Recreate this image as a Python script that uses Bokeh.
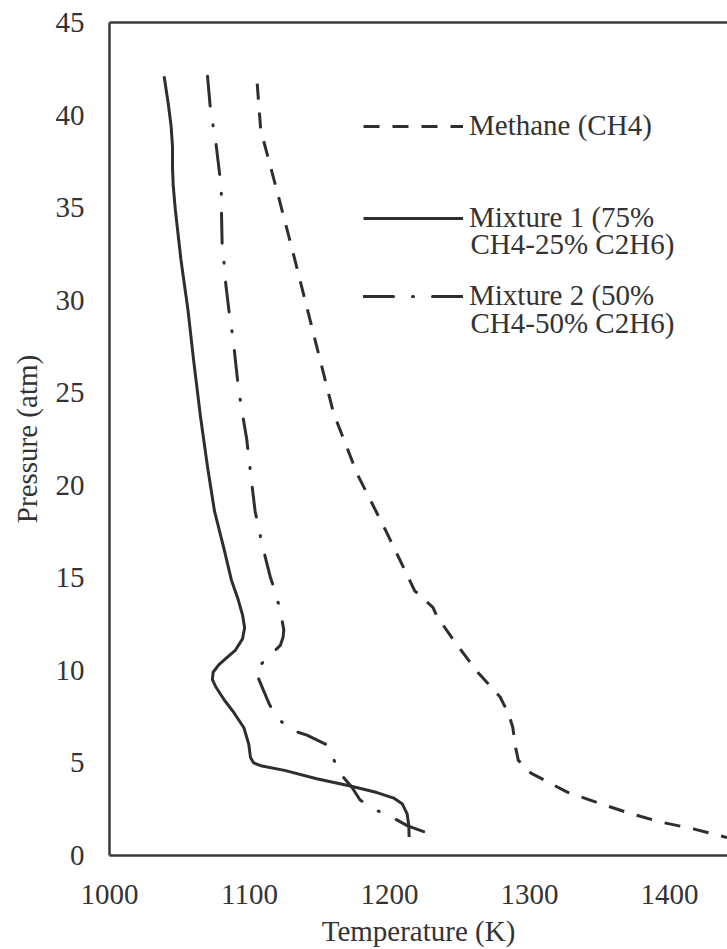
from bokeh.plotting import figure
from bokeh.models import Range1d, LinearAxis, FixedTicker, Legend, LegendItem, Label
from bokeh.core.properties import value
from bokeh.embed import file_html
from bokeh.resources import INLINE

# ---- data ----
methane_T = [1105.5, 1108, 1120, 1132, 1144, 1147, 1160, 1177, 1197, 1218, 1231, 1234,
             1248, 1263, 1279, 1285, 1288, 1290, 1292, 1301, 1327, 1351, 1372, 1394,
             1417, 1441]
methane_P = [41.7, 39.2, 35.8, 32.3, 28.7, 27.8, 23.9, 20.6, 17.6, 14.3, 13.4, 12.9,
             11.4, 9.9, 8.56, 7.66, 6.94, 5.85, 5.14, 4.45, 3.42, 2.79, 2.27, 1.8,
             1.44, 0.97]

mix1_T = [1039, 1042, 1044, 1045, 1045, 1045.5, 1047, 1051, 1056, 1060, 1065, 1070,
          1075, 1082, 1087, 1092, 1095, 1096.5, 1095, 1090, 1084, 1078, 1074, 1073.5,
          1076, 1079, 1082, 1089, 1096, 1099.5, 1100.7, 1103, 1108, 1125, 1148, 1172,
          1191, 1203, 1209, 1212.6, 1213.8, 1214]
mix1_P = [42.1, 40.6, 39.4, 38.3, 37.2, 36.2, 34.9, 32.2, 29.5, 26.8, 23.7, 21.0,
          18.6, 16.5, 14.9, 13.8, 13.0, 12.3, 11.7, 11.1, 10.7, 10.3, 9.9, 9.5,
          9.1, 8.75, 8.4, 7.7, 6.9, 6.0, 5.3, 5.0, 4.85, 4.6, 4.15, 3.75,
          3.4, 3.1, 2.8, 2.25, 1.6, 1.0]

mix2_T = [1070, 1072, 1074, 1076, 1079, 1080, 1080, 1080.5, 1082, 1083, 1086, 1088,
          1092, 1094, 1098, 1101, 1104, 1109, 1115, 1119, 1122, 1124.5, 1124, 1122,
          1113, 1104, 1109, 1114, 1119, 1129, 1141, 1156, 1159, 1164, 1173, 1179,
          1189, 1201, 1213, 1235]
mix2_P = [42.1, 40.4, 39.4, 38.5, 36.6, 35.6, 34.7, 32.8, 31.9, 30.9, 29.0, 28.1,
          25.3, 24.3, 22.5, 20.5, 18.6, 16.8, 15.0, 14.1, 13.2, 12.2, 11.8, 11.35,
          10.7, 10.0, 9.1, 8.2, 7.5, 6.8, 6.5, 5.95, 5.4, 4.5, 3.7, 3.0,
          2.5, 2.1, 1.6, 1.0]

x_ticks = [1000, 1100, 1200, 1300, 1400]
y_ticks = [0, 5, 10, 15, 20, 25, 30, 35, 40, 45]

series_names = ["Methane (CH4)", "Mixture 1 (75%", "Mixture 2 (50%"]
series_second_lines = ["CH4-25% C2H6)", "CH4-50% C2H6)"]

FONT = "Liberation Serif"
FS = "29px"
INK = "#2e2e2e"
TXT = "#333333"

p = figure(width=727, height=949, output_backend="svg", toolbar_location=None,
           x_range=Range1d(1000, 1441.4), y_range=Range1d(0, 45),
           min_border_left=109, min_border_right=0, min_border_top=22,
           min_border_bottom=94)
p.outline_line_color = None
p.grid.visible = False
p.background_fill_color = "white"

for ax in (p.xaxis[0], p.yaxis[0]):
    ax.major_tick_out = 0
    ax.major_tick_in = 0
    ax.minor_tick_out = 0
    ax.minor_tick_in = 0
    ax.axis_line_color = "#3a3a3a"
    ax.axis_line_width = 2.5
    ax.major_label_text_font = FONT
    ax.major_label_text_font_size = FS
    ax.major_label_text_color = TXT
    ax.axis_label_text_font = FONT
    ax.axis_label_text_font_size = FS
    ax.axis_label_text_font_style = "normal"
    ax.axis_label_text_color = TXT

p.xaxis.ticker = FixedTicker(ticks=x_ticks)
p.yaxis.ticker = FixedTicker(ticks=y_ticks)
p.xaxis.axis_label = "Temperature (K)"
p.yaxis.axis_label = "Pressure (atm)"
p.xaxis.major_label_standoff = 29
p.xaxis.axis_label_standoff = 8
p.yaxis.major_label_standoff = 25
p.yaxis.axis_label_standoff = 10

top = LinearAxis(ticker=FixedTicker(ticks=[]), major_tick_out=0, major_tick_in=0,
                 minor_tick_out=0, minor_tick_in=0, major_label_text_font_size="0px",
                 axis_line_color="#3a3a3a", axis_line_width=2.5)
p.add_layout(top, "above")

r_meth = p.line(methane_T, methane_P, line_color=INK, line_width=3, line_dash="16 13")
r_mix1 = p.line(mix1_T, mix1_P, line_color=INK, line_width=3, line_join="round")
r_mix2 = p.line(mix2_T, mix2_P, line_color=INK, line_width=3, line_dash="30 19 1 19",
                line_cap="round", line_join="round")

def add_legend(renderer, text, vy):
    leg = Legend(items=[LegendItem(label=value(text), renderers=[renderer])],
                 location=(254, vy), padding=0, margin=0, spacing=0,
                 glyph_width=100, glyph_height=30, label_height=30,
                 label_standoff=6, label_text_font=FONT, label_text_font_size=FS,
                 label_text_color=TXT, border_line_color=None,
                 background_fill_alpha=0)
    p.add_layout(leg)

add_legend(r_meth, series_names[0], 713)
add_legend(r_mix1, series_names[1], 621)
add_legend(r_mix2, series_names[2], 543)

for txt, y in zip(series_second_lines, [612, 533]):
    p.add_layout(Label(x=361, y=y, x_units="screen", y_units="screen", text=txt,
                       text_font=FONT, text_font_size=FS, text_color=TXT,
                       text_baseline="middle"))

open("out.html", "w").write(file_html(p, INLINE))
